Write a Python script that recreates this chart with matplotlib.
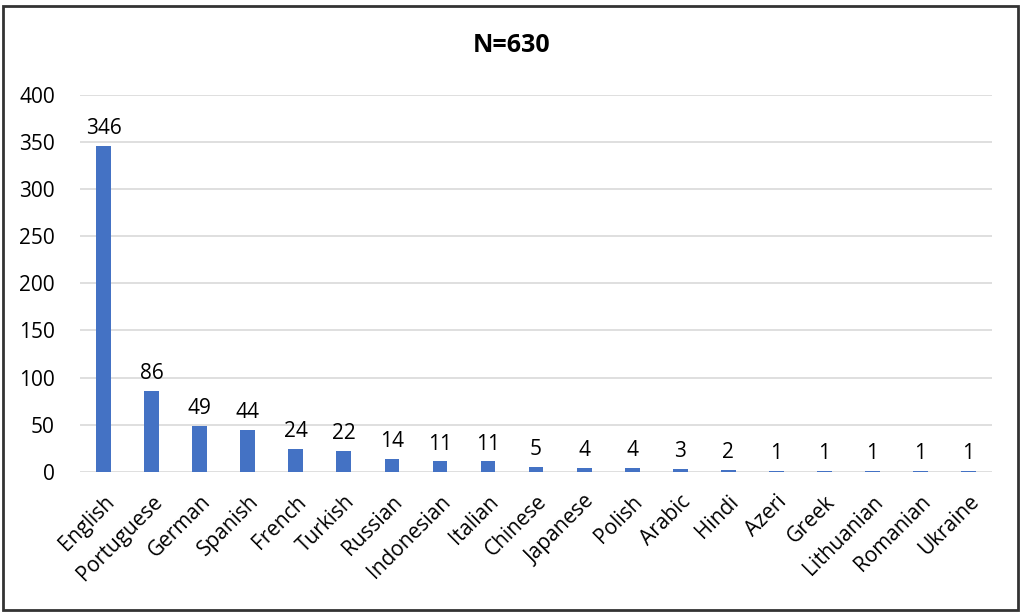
import matplotlib.pyplot as plt
from matplotlib.patches import Rectangle

languages = ['English', 'Portuguese', 'German', 'Spanish', 'French', 'Turkish',
             'Russian', 'Indonesian', 'Italian', 'Chinese', 'Japanese', 'Polish',
             'Arabic', 'Hindi', 'Azeri', 'Greek', 'Lithuanian', 'Romanian', 'Ukraine']
counts = [346, 86, 49, 44, 24, 22, 14, 11, 11, 5, 4, 4, 3, 2, 1, 1, 1, 1, 1]
yticks = [0, 50, 100, 150, 200, 250, 300, 350, 400]

plt.rcParams['font.family'] = ['Open Sans', 'DejaVu Sans']

fig = plt.figure(figsize=(10.23, 6.12), dpi=100)
ax = fig.add_axes([0.078, 0.229, 0.892, 0.616])

x = list(range(len(languages)))
bars = ax.bar(x, counts, width=0.31, color='#4472C4', zorder=3)
for xi, c in zip(x, counts):
    ax.annotate(str(c), (xi, c), xytext=(0, 5), textcoords='offset points',
                ha='center', va='bottom', fontsize=15)

ax.set_xlim(-0.5, len(languages) - 0.5)
ax.set_ylim(0, 400)
ax.set_yticks(yticks)
ax.set_yticklabels([str(t) for t in yticks], fontsize=15)
ax.set_xticks(x)
ax.set_xticklabels(languages, rotation=45, ha='right', rotation_mode='anchor', fontsize=15)
ax.tick_params(axis='y', length=0, pad=18)
ax.tick_params(axis='x', length=0, pad=14)
ax.yaxis.grid(True, color='#D9D9D9', linewidth=1.2, zorder=0)
for s in ax.spines.values():
    s.set_visible(False)

fig.text(0.5, 0.925, 'N=630', ha='center', va='center', fontsize=18, fontweight='bold')

fig.patches.append(Rectangle((0.003, 0.003), 0.992, 0.988, transform=fig.transFigure,
                             fill=False, edgecolor='#333333', linewidth=2))

fig.savefig('out.png', dpi=100)
